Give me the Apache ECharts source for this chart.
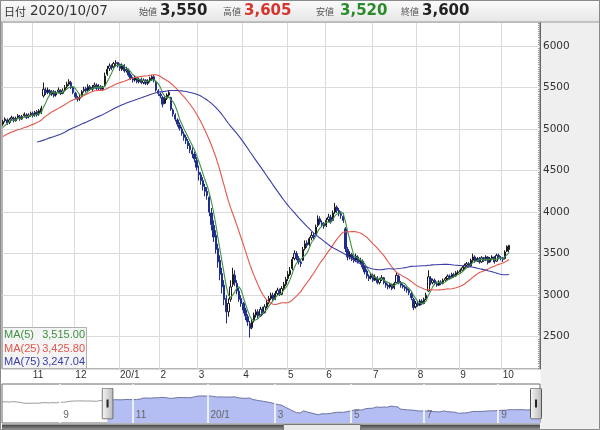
<!DOCTYPE html>
<html>
<head>
<meta charset="utf-8">
<script src="https://cdn.jsdelivr.net/npm/echarts@6/dist/echarts.min.js"></script>
<style>
  html, body { margin: 0; padding: 0; background: #fff; }
  #chart { width: 600px; height: 430px; }
</style>
</head>
<body>
<div id="chart"></div>
<script>
/* 休場日 (祝日 + 2020/10/01 システム障害) */
const holidays = [
  '2019-08-12', '2019-09-16', '2019-09-23', '2019-10-14', '2019-10-22', '2019-11-04',
  '2019-12-31', '2020-01-01', '2020-01-02', '2020-01-03', '2020-01-13', '2020-02-11',
  '2020-02-24', '2020-03-20', '2020-04-29', '2020-05-04', '2020-05-05', '2020-05-06',
  '2020-07-23', '2020-07-24', '2020-08-10', '2020-09-21', '2020-09-22', '2020-10-01'
];

/* 表示範囲より前の終値 (2019/07/17 - 2019/10/09) */
const preCloses = [
  4780, 4760, 4800, 4770, 4740, 4790, 4820, 4800, 4760, 4730, 4700,
  4610, 4550, 4490, 4530, 4570, 4540, 4590, 4560, 4520, 4550, 4600,
  4630, 4610, 4650, 4620, 4590, 4630, 4660, 4640, 4610, 4650,
  4720, 4730, 4720, 4760, 4790, 4840, 4900, 4880, 4920, 4950, 4930,
  4900, 4940, 4960, 4920, 4890, 4930, 4870, 4900,
  4840, 4880, 4950, 4990, 4960, 5010, 5050
];

/* 日足 [始値, 終値, 安値, 高値] 2019/10/10 - 2020/10/07 */
const candles = [
  [5060,5090,5040,5110],[5100,5120,5080,5140],[5110,5070,5050,5130],[5080,5110,5060,5130],
  [5120,5140,5100,5160],[5130,5100,5080,5150],[5100,5130,5090,5150],[5140,5160,5120,5180],
  [5150,5120,5100,5170],[5120,5150,5110,5170],[5160,5180,5140,5200],[5170,5140,5120,5190],
  [5150,5170,5130,5190],[5170,5190,5150,5210],
  [5190,5160,5140,5210],[5170,5200,5150,5220],[5210,5170,5150,5230],[5180,5220,5160,5240],
  [5200,5250,5180,5280],[5400,5480,5380,5560],[5470,5440,5410,5500],[5440,5470,5420,5500],
  [5460,5420,5400,5480],[5420,5450,5400,5470],[5450,5400,5380,5470],[5410,5440,5390,5460],
  [5450,5470,5430,5500],[5460,5430,5410,5480],[5430,5460,5420,5490],[5470,5500,5450,5530],
  [5510,5540,5490,5570],[5540,5570,5520,5600],[5560,5500,5480,5580],[5500,5440,5420,5510],
  [5430,5390,5360,5450],[5380,5360,5330,5400],[5370,5380,5340,5410],[5390,5450,5380,5470],
  [5460,5480,5440,5510],[5490,5460,5440,5510],[5470,5510,5450,5540],[5510,5480,5460,5530],
  [5480,5500,5460,5530],[5510,5530,5490,5560],[5530,5490,5470,5550],[5490,5510,5470,5540],
  [5510,5480,5460,5530],[5480,5500,5460,5520],[5520,5640,5510,5680],[5660,5720,5640,5760],
  [5730,5760,5700,5790],[5760,5740,5710,5780],[5750,5790,5730,5810],[5790,5800,5760,5830],
  [5800,5760,5740,5810],
  [5780,5730,5700,5790],[5720,5770,5700,5790],[5770,5700,5680,5780],[5700,5720,5680,5750],
  [5710,5650,5630,5730],[5650,5610,5590,5670],[5610,5590,5560,5630],[5590,5620,5570,5640],
  [5620,5570,5550,5630],[5570,5600,5550,5620],[5600,5560,5540,5620],[5560,5590,5540,5610],
  [5590,5550,5530,5600],[5550,5580,5530,5600],[5580,5610,5560,5630],[5600,5630,5580,5650],
  [5630,5580,5560,5650],[5560,5470,5450,5580],[5460,5430,5400,5480],
  [5420,5400,5370,5440],[5380,5300,5260,5400],[5310,5370,5300,5390],[5370,5410,5350,5430],
  [5410,5440,5390,5460],[5380,5240,5220,5390],[5230,5180,5150,5250],[5170,5120,5090,5190],
  [5110,5060,5030,5130],[5050,5010,4980,5080],[5000,4950,4920,5030],[4940,4900,4860,4970],
  [4900,4860,4820,4930],[4850,4800,4760,4880],[4800,4750,4710,4830],[4740,4700,4650,4780],
  [4700,4640,4600,4730],[4620,4540,4500,4660],
  [4480,4450,4380,4560],[4450,4380,4330,4480],[4380,4310,4260,4420],[4300,4250,4190,4340],
  [4250,4200,4150,4300],[4180,4000,3950,4200],[3990,3850,3780,4050],[3840,3700,3640,3900],
  [3720,3550,3500,3780],[3560,3400,3330,3620],[3420,3250,3180,3480],[3260,3100,3020,3330],
  [3120,2950,2880,3180],[2960,2800,2660,3000],[2800,2900,2740,2960],[2950,3100,2920,3180],
  [3130,3250,3100,3330],[3240,3150,3110,3300],[3140,3050,3010,3180],[3050,2950,2920,3090],
  [2960,2900,2860,3000],
  [2900,2820,2780,2920],[2820,2750,2700,2850],[2740,2680,2630,2770],[2660,2600,2490,2690],
  [2610,2680,2590,2710],[2690,2760,2670,2790],[2760,2800,2730,2830],[2800,2750,2720,2830],
  [2750,2830,2740,2860],[2830,2780,2760,2860],[2790,2860,2780,2890],[2860,2910,2840,2940],
  [2910,2960,2890,2990],[2960,3000,2940,3030],[3000,2950,2930,3030],[2950,3020,2940,3050],
  [3020,3060,3000,3090],[3060,3010,2990,3080],[3010,3080,3000,3110],[3080,3130,3060,3160],
  [3130,3190,3110,3220],
  [3200,3250,3170,3290],[3250,3300,3230,3340],[3320,3430,3300,3460],[3440,3500,3420,3540],
  [3500,3450,3420,3530],[3440,3400,3370,3470],[3400,3380,3340,3420],[3420,3550,3410,3580],
  [3560,3620,3540,3660],[3630,3600,3570,3660],[3610,3680,3590,3700],[3690,3720,3660,3760],
  [3720,3700,3670,3750],[3730,3820,3720,3850],[3840,3920,3820,3960],[3920,3880,3850,3950],
  [3870,3850,3820,3900],[3860,3830,3800,3880],
  [3840,3900,3820,3930],[3910,3940,3880,3980],[3940,3880,3860,3970],[3900,3990,3890,4020],
  [4000,4060,3980,4110],[4060,4020,3990,4080],[4020,3980,3950,4050],[3980,3960,3920,4010],
  [3950,3900,3870,3990],[3800,3560,3520,3820],[3550,3460,3420,3580],[3460,3490,3430,3530],
  [3490,3440,3410,3510],[3450,3420,3390,3470],[3420,3470,3400,3500],[3460,3400,3380,3480],
  [3400,3420,3370,3450],[3410,3340,3310,3430],[3340,3280,3250,3360],[3290,3230,3200,3310],
  [3230,3200,3170,3250],[3210,3240,3190,3270],
  [3240,3180,3160,3260],[3180,3220,3170,3250],[3210,3150,3130,3230],[3150,3190,3130,3210],
  [3190,3210,3170,3240],[3210,3150,3130,3220],[3150,3120,3090,3170],[3120,3100,3070,3140],
  [3100,3130,3080,3150],[3130,3080,3060,3140],[3090,3140,3070,3160],[3150,3240,3140,3280],
  [3230,3150,3130,3250],[3150,3120,3090,3170],[3120,3100,3080,3140],[3100,3080,3050,3120],
  [3080,3060,3030,3100],[3060,3030,3000,3080],[3020,2970,2940,3040],[2950,2850,2820,2970],
  [2860,2900,2840,2930],
  [2900,2880,2860,2930],[2880,2930,2870,2950],[2930,2900,2880,2950],[2900,2950,2890,2970],
  [2960,3000,2940,3030],[3050,3220,3040,3300],[3200,3150,3120,3230],[3150,3180,3130,3200],
  [3180,3140,3120,3200],[3140,3120,3100,3160],[3120,3160,3110,3180],[3160,3140,3120,3180],
  [3140,3180,3130,3200],[3180,3200,3160,3220],[3200,3230,3180,3250],[3230,3210,3190,3250],
  [3210,3250,3200,3270],[3250,3230,3210,3270],[3230,3270,3220,3290],[3270,3280,3250,3300],
  [3280,3300,3260,3320],[3300,3330,3280,3350],[3330,3360,3310,3380],[3360,3380,3340,3400],
  [3380,3350,3330,3400],[3350,3420,3340,3440],[3420,3460,3400,3500],[3460,3410,3390,3480],
  [3410,3440,3400,3460],[3440,3400,3380,3460],[3400,3450,3390,3470],[3450,3420,3400,3460],
  [3420,3460,3410,3480],[3460,3390,3370,3470],[3400,3440,3390,3460],[3440,3460,3420,3480],
  [3460,3400,3380,3470],[3410,3480,3400,3500],[3480,3450,3430,3500],[3450,3440,3420,3470],
  [3440,3430,3400,3460],[3440,3520,3430,3540],[3530,3585,3520,3600],[3550,3600,3520,3605]
];

/* 移動平均の凡例 (画面表示値) */
const maNames = ['MA(5)', 'MA(25)', 'MA(75)'];
const maPeriods = [5, 25, 75];
const maLast = ['3,515.00', '3,425.80', '3,247.04'];
const lowMark = 2875;

/* 営業日の一覧 (2019/07/17 - 2020/10/27, 10/08 以降は空き) */
function tradingDays(from, to) {
  const out = [];
  const d = new Date(from + 'T00:00:00Z');
  const end = new Date(to + 'T00:00:00Z').getTime();
  while (d.getTime() <= end) {
    const wd = d.getUTCDay();
    const iso = d.toISOString().slice(0, 10);
    if (wd !== 0 && wd !== 6 && holidays.indexOf(iso) < 0) out.push(iso.replace(/-/g, '/'));
    d.setUTCDate(d.getUTCDate() + 1);
  }
  return out;
}
const dates = tradingDays('2019-07-17', '2020-10-27');

const start = preCloses.length;
const closes = preCloses.concat(candles.map(c => c[1]));
const navDates = dates.slice(0, closes.length);

function movingAverage(values, n) {
  return values.map((v, i) => {
    if (i < n - 1) return '-';
    let s = 0;
    for (let k = i - n + 1; k <= i; k++) s += values[k];
    return +(s / n).toFixed(2);
  });
}

function isMonthStart(i) {
  return i > 0 && dates[i] && dates[i].slice(0, 7) !== dates[i - 1].slice(0, 7);
}
function monthLabel(v) {
  const m = +v.slice(5, 7);
  return m === 1 ? v.slice(2, 4) + '/1' : String(m);
}
const fmt = v => v.toLocaleString('en-US');

const last = candles[candles.length - 1];
const lastDate = dates[start + candles.length - 1];

const maColors = ['#3d9140', '#e2574c', '#3a3ea6'];

const handleSvg = "<svg xmlns='http://www.w3.org/2000/svg' width='12' height='32'>" +
  "<defs><linearGradient id='g' x1='0' x2='1'><stop offset='0' stop-color='#f6f6f6'/>" +
  "<stop offset='1' stop-color='#b9b9b9'/></linearGradient></defs>" +
  "<rect x='0.5' y='0.5' width='11' height='31' rx='1.5' fill='url(#g)' stroke='#555'/>" +
  "<rect x='5' y='12' width='2' height='8' fill='#222'/></svg>";

const chart = echarts.init(document.getElementById('chart'));

/* 上部ヘッダー */
const hy = 11.5;
const headerItems = [
  { t: '日付', x: 4, f: '11px "Noto Sans CJK JP"', c: '#333' },
  { t: lastDate, x: 30, f: '13.5px "DejaVu Sans"', c: '#333' },
  { t: '始値', x: 139, f: '9px "Noto Sans CJK JP"', c: '#555' },
  { t: fmt(last[0]), x: 160, f: 'bold 15px "DejaVu Sans"', c: '#222' },
  { t: '高値', x: 223, f: '9px "Noto Sans CJK JP"', c: '#555' },
  { t: fmt(last[3]), x: 244, f: 'bold 15px "DejaVu Sans"', c: '#d8342c' },
  { t: '安値', x: 316, f: '9px "Noto Sans CJK JP"', c: '#555' },
  { t: fmt(last[2]), x: 340, f: 'bold 15px "DejaVu Sans"', c: '#2b8a2b' },
  { t: '終値', x: 401, f: '9px "Noto Sans CJK JP"', c: '#555' },
  { t: fmt(last[1]), x: 422, f: 'bold 15px "DejaVu Sans"', c: '#222' }
];

const graphics = [
  { type: 'rect', z: -5, shape: { x: 540.5, y: 22, width: 60, height: 408 }, style: { fill: '#efefef' } },
  { type: 'rect', z: 1, shape: { x: 0.5, y: 0.5, width: 599, height: 21.5 },
    style: { fill: new echarts.graphic.LinearGradient(0, 0, 0, 1, [
      { offset: 0, color: '#fbfbfb' }, { offset: 1, color: '#e6e6e6' }]), stroke: '#999' } },
  { type: 'rect', z: 1, shape: { x: 2, y: 424.5, width: 538, height: 6 },
    style: { fill: new echarts.graphic.LinearGradient(0, 0, 0, 1, [
      { offset: 0, color: '#3f3f3f' }, { offset: 1, color: '#a5a5a5' }]) } },
  { type: 'rect', z: 2, shape: { x: 283.5, y: 424.5, width: 77, height: 6 },
    style: { fill: '#e8e8e8', stroke: '#777' } },
  { type: 'rect', z: 1, shape: { x: 0.5, y: 0.5, width: 599, height: 429 }, style: { fill: 'none', stroke: '#8a8a8a' } },
  { type: 'rect', z: 50, shape: { x: 2.5, y: 327.5, width: 84, height: 41 }, style: { fill: '#f4f4f4', stroke: '#b0b0b0' } }
];
headerItems.forEach(h => graphics.push({
  type: 'text', z: 3,
  style: { text: h.t, x: h.x, y: hy, font: h.f, fill: h.c, verticalAlign: 'middle', textVerticalAlign: 'middle' }
}));
maNames.forEach((n, k) => {
  const y = 335 + k * 13.5;
  graphics.push({ type: 'text', z: 51, style: { text: n, x: 4, y: y, font: '11px "Liberation Sans"', fill: maColors[k], verticalAlign: 'middle', textVerticalAlign: 'middle' } });
  graphics.push({ type: 'text', z: 51, style: { text: maLast[k], x: 85, y: y, font: '11px "Liberation Sans"', fill: maColors[k], align: 'right', textAlign: 'right', verticalAlign: 'middle', textVerticalAlign: 'middle' } });
});

const maSeries = maPeriods.map((p, k) => ({
  name: maNames[k],
  type: 'line',
  xAxisIndex: 0,
  yAxisIndex: 0,
  data: movingAverage(closes, p),
  showSymbol: false,
  symbol: 'none',
  silent: true,
  lineStyle: { color: maColors[k], width: 1.1 },
  z: 3
}));

const option = {
  animation: false,
  backgroundColor: '#fff',
  graphic: { elements: graphics },
  grid: [
    { left: 2, right: 60, top: 22, height: 347, show: true, backgroundColor: '#fff', borderColor: '#6a6a6a', borderWidth: 1, outerBoundsMode: 'none' },
    { left: 2, right: 60, top: 384, height: 39, show: true, backgroundColor: '#fff', borderColor: '#6a6a6a', borderWidth: 1, outerBoundsMode: 'none' }
  ],
  xAxis: [
    {
      type: 'category',
      gridIndex: 0,
      data: dates,
      boundaryGap: true,
      axisLine: { show: false },
      axisTick: { show: false },
      axisLabel: {
        interval: i => isMonthStart(i),
        formatter: monthLabel,
        color: '#333',
        fontSize: 10,
        fontFamily: 'Liberation Sans',
        align: 'left',
        margin: 1
      },
      splitLine: { show: true, interval: i => isMonthStart(i), lineStyle: { color: '#dadada', width: 1 } }
    },
    {
      type: 'category',
      gridIndex: 1,
      data: navDates,
      boundaryGap: false,
      z: 5,
      axisLine: { show: false },
      axisTick: { show: false },
      axisLabel: {
        inside: true,
        interval: i => isMonthStart(i) && (+dates[i].slice(5, 7)) % 2 === 1,
        formatter: monthLabel,
        color: '#666',
        fontSize: 10,
        fontFamily: 'Liberation Sans',
        align: 'left',
        margin: 3,
        padding: [0, 0, 0, 3]
      },
      splitLine: {
        show: true,
        interval: i => isMonthStart(i) && (+dates[i].slice(5, 7)) % 2 === 1,
        lineStyle: { color: '#ffffff', width: 1.5 }
      }
    }
  ],
  yAxis: [
    {
      type: 'value',
      gridIndex: 0,
      position: 'right',
      min: 2111,
      max: 6289,
      splitNumber: 8,
      axisLine: { show: true, lineStyle: { color: '#666' } },
      axisTick: { show: false, inside: true },
      minorTick: { show: true, splitNumber: 20, length: 2, lineStyle: { color: '#999' } },
      axisLabel: {
        color: '#333',
        fontSize: 10.5,
        fontFamily: 'DejaVu Sans',
        margin: 3,
        showMinLabel: false,
        showMaxLabel: false,
        formatter: v => String(v)
      },
      splitLine: { show: true, lineStyle: { color: '#dadada', width: 1 } }
    },
    { type: 'value', gridIndex: 1, show: false, min: 1200, max: 7800 }
  ],
  dataZoom: [
    {
      type: 'slider',
      xAxisIndex: 0,
      startValue: start,
      endValue: dates.length - 1,
      filterMode: 'filter',
      left: 6.5,
      right: 64,
      top: 386,
      height: 35,
      z: 8,
      showDataShadow: false,
      showDetail: false,
      brushSelect: false,
      moveHandleSize: 0,
      backgroundColor: 'rgba(0,0,0,0)',
      borderColor: 'rgba(0,0,0,0)',
      fillerColor: 'rgba(0,0,0,0)',
      handleIcon: 'image://data:image/svg+xml;charset=utf-8,' + encodeURIComponent(handleSvg),
      handleSize: 32,
      handleStyle: { color: '#ddd', borderColor: '#555' },
      emphasis: { handleStyle: { color: '#ddd', borderColor: '#555' } }
    }
  ],
  series: [
    {
      name: '日足',
      type: 'candlestick',
      xAxisIndex: 0,
      yAxisIndex: 0,
      data: preCloses.map(() => '-').concat(candles),
      barWidth: '85%',
      silent: true,
      z: 2,
      itemStyle: {
        color: '#ffffff',
        color0: '#1f2d8c',
        borderColor: '#1a1a1a',
        borderColor0: '#1f2d8c',
        borderWidth: 1
      },
      markLine: {
        silent: true,
        symbol: 'none',
        lineStyle: { opacity: 0 },
        label: { position: 'end', formatter: String(lowMark), color: '#e8804a', fontSize: 10.5, fontFamily: 'DejaVu Sans', distance: 3 },
        data: [{ yAxis: lowMark }]
      }
    },
    ...maSeries,
    {
      name: 'navPre',
      type: 'line',
      xAxisIndex: 1,
      yAxisIndex: 1,
      data: closes.map((v, i) => (i <= start ? v : '-')),
      showSymbol: false,
      symbol: 'none',
      silent: true,
      lineStyle: { color: '#9a9a9a', width: 1 }
    },
    {
      name: 'navSel',
      type: 'line',
      xAxisIndex: 1,
      yAxisIndex: 1,
      data: closes.map((v, i) => (i >= start ? v : '-')),
      showSymbol: false,
      symbol: 'none',
      silent: true,
      lineStyle: { color: '#6e73a6', width: 1 },
      areaStyle: { color: '#b4bef3', opacity: 1 }
    }
  ]
};

chart.setOption(option);
</script>
</body>
</html>
